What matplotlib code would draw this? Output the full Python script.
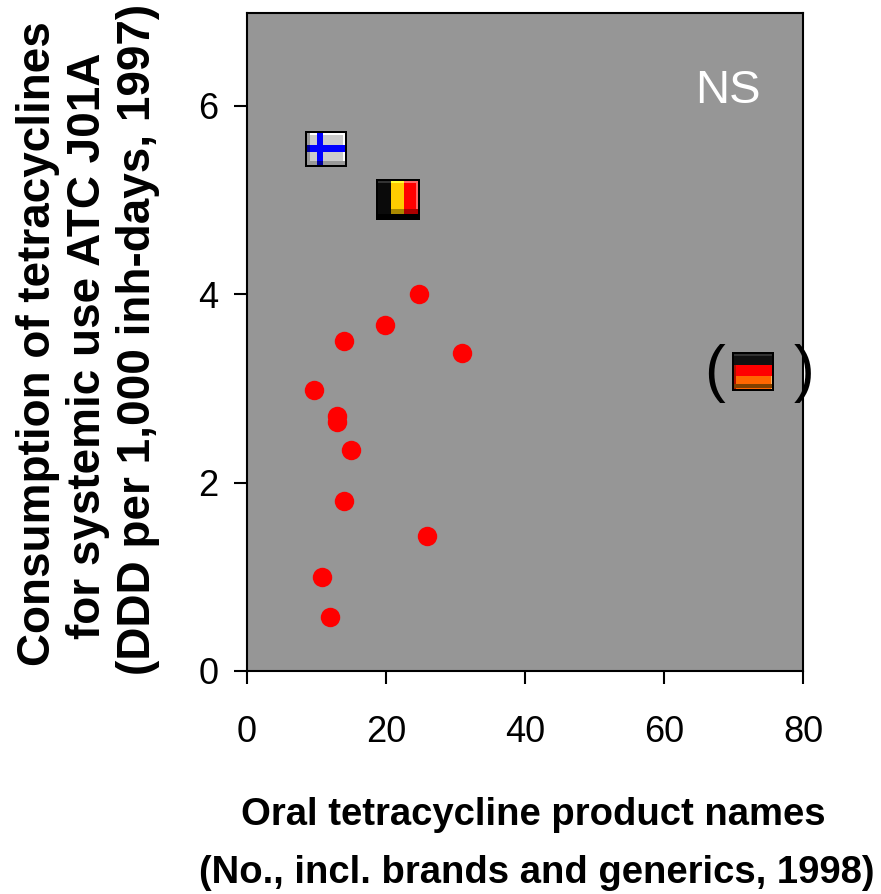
import numpy as np
import matplotlib
matplotlib.use("Agg")
import matplotlib.pyplot as plt
from matplotlib.offsetbox import OffsetImage, AnnotationBbox

plt.rcParams['font.family'] = ['Liberation Sans', 'DejaVu Sans']

W, H = 881, 894

names = [24.8, 19.9, 13.9, 30.9, 9.7, 12.9, 12.9, 14.9, 13.9, 25.9, 10.8, 11.9]
consumption = [4.0, 3.67, 3.5, 3.38, 2.98, 2.71, 2.64, 2.35, 1.81, 1.43, 1.0, 0.57]
flag_names = ["Finland", "Belgium", "Germany"]
flag_x = [11.4, 21.7, 72.8]
flag_y = [5.54, 5.01, 3.18]
xticks = [0, 20, 40, 60, 80]
yticks = [0, 2, 4, 6]
ylabel_lines = ["Consumption of tetracyclines",
                "for systemic use ATC J01A",
                "(DDD per 1,000 inh-days, 1997)"]
xlabel_lines = ["Oral tetracycline product names",
                "(No., incl. brands and generics, 1998)"]


def hexrgb(c):
    return [int(c[i:i + 2], 16) / 255 for i in (1, 3, 5)]


def flag_image(name):
    # little bevelled flag icons, black border
    if name == "Finland":
        w, h = 42, 36
        img = np.full((h, w, 3), hexrgb("#cccccc"))
        img[2:4, 2:-2] = 1.0
        img[2:-2, -4:-1] = 1.0
        img[-6:-2, 2:-2] = hexrgb("#999999")
        img[2:-2, 2:5] = hexrgb("#999999")
        img[14:21, :] = hexrgb("#0000ff")
        img[:, 12:18] = hexrgb("#0000ff")
        img[14:21, 2:5] = hexrgb("#000099")
        img[-6:-2, 12:18] = hexrgb("#000099")
    elif name == "Belgium":
        w, h = 44, 41
        img = np.zeros((h, w, 3))
        img[:, :15] = hexrgb("#0a0a0a")
        img[:, 15:28] = hexrgb("#ffcc00")
        img[:, 28:] = hexrgb("#ff0000")
        img[2:4, 15:28] = hexrgb("#ffff33")
        img[2:4, 28:-2] = hexrgb("#ff6666")
        img[2:-6, -4:-2] = hexrgb("#ff6666")
        img[-11:-6, 15:28] = hexrgb("#aa8800")
        img[-11:-6, 28:-2] = hexrgb("#aa0000")
        img[2:4, 2:15] = hexrgb("#333333")
        img[-6:] = 0
    else:
        w, h = 42, 39
        img = np.zeros((h, w, 3))
        img[:13] = hexrgb("#111111")
        img[13:24] = hexrgb("#ff0000")
        img[24:] = hexrgb("#ff6600")
        img[2:4, 2:-2] = hexrgb("#333333")
        img[24:-2, -3:-1] = hexrgb("#ffb060")
        img[13:-2, 2:4] = hexrgb("#aa1100")
        img[-7:-3, 2:-2] = hexrgb("#804000")
    img[:2, :] = 0
    img[-2:, :] = 0
    img[:, :2] = 0
    img[:, -2:] = 0
    return img


fig = plt.figure(figsize=(W / 100, H / 100), dpi=100)
ax = fig.add_axes([247 / W, 1 - 671 / H, (803 - 247) / W, (671 - 13) / H])
ax.set_facecolor("#969696")

ax.plot(names, consumption, linestyle="none", marker="o", color="#ff0000",
        markersize=14, markeredgewidth=0, zorder=3)

for name, x, y in zip(flag_names, flag_x, flag_y):
    box = OffsetImage(flag_image(name), zoom=1, interpolation="nearest", dpi_cor=False)
    ax.add_artist(AnnotationBbox(box, (x, y), frameon=False, pad=0, zorder=4))

ax.text(69.2, 6.16, "NS", color="white", fontsize=34, ha="center", va="center")
ax.text(67.2, 3.16, "(", color="black", fontsize=45, ha="center", va="center", clip_on=False)
ax.text(80.1, 3.16, ")", color="black", fontsize=45, ha="center", va="center", clip_on=False)

ax.set_xlim(0, 80)
ax.set_ylim(0, 658 / 94.17)
ax.set_xticks(xticks)
ax.set_yticks(yticks)
ax.tick_params(axis="both", length=9.5, width=1.5, labelsize=26)
ax.tick_params(axis="x", pad=22)
ax.tick_params(axis="y", pad=11)
for s in ax.spines.values():
    s.set_linewidth(1.5)

# y title lines have their own centres in the original
for line, px, py in zip(ylabel_lines, [50, 100, 150], [343.5, 345.5, 339]):
    fig.text(px / W, 1 - py / H, line, rotation=90, ha="center", va="baseline",
             rotation_mode="anchor", fontsize=33, fontweight="bold")
for line, px, py in zip(xlabel_lines, [533, 537], [825, 883]):
    fig.text(px / W, 1 - py / H, line, ha="center", va="baseline",
             fontsize=27.5, fontweight="bold")

fig.savefig("out.png", dpi=100)
